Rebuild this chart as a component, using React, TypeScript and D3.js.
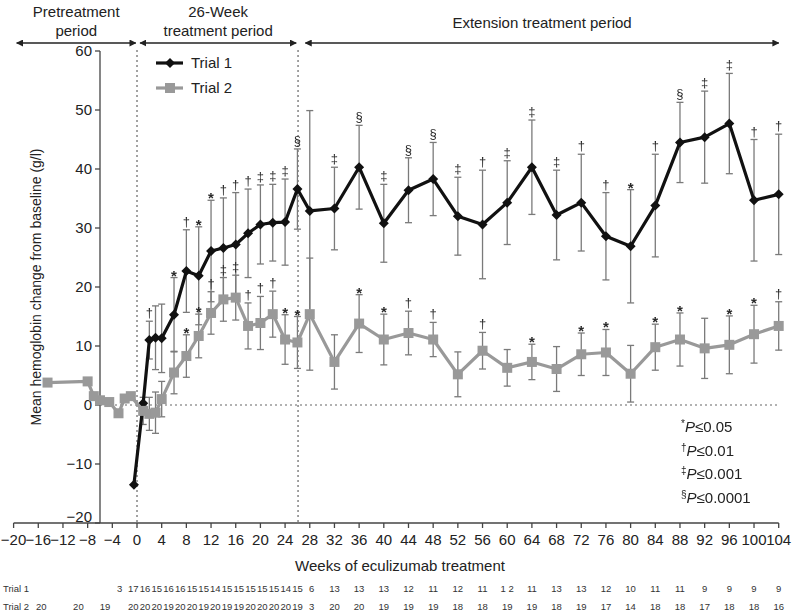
import React from 'react';
import * as d3 from 'd3';

const W = 792;
const H = 616;

// ---------- Data ----------
const xTicks = d3.range(-20, 105, 4);
const yTicks = [-20, -10, 0, 10, 20, 30, 40, 50, 60];

const t1Weeks = [-0.5, 1, 2, 3, 4, 6, 8, 10, 12, 14, 16, 18, 20, 22, 24, 26, 28, 32, 36, 40, 44, 48, 52, 56, 60, 64, 68, 72, 76, 80, 84, 88, 92, 96, 100, 104];
const t1Mean = [-13.5, 0.3, 11.0, 11.4, 11.3, 15.3, 22.7, 21.9, 26.1, 26.6, 27.2, 29.1, 30.6, 30.9, 31.0, 36.6, 32.9, 33.3, 40.3, 30.8, 36.4, 38.3, 32.0, 30.6, 34.3, 40.3, 32.2, 34.3, 28.6, 26.9, 33.8, 44.5, 45.4, 47.7, 34.7, 35.7];
const t1Err = [0, 0, 3.2, 5.4, 5.8, 6.3, 7.0, 8.3, 8.6, 8.5, 8.8, 7.5, 6.7, 6.5, 7.3, 6.8, 17.0, 7.0, 7.1, 6.6, 5.5, 6.2, 6.6, 9.2, 7.1, 8.0, 7.6, 8.2, 7.4, 9.6, 8.7, 6.8, 7.8, 8.5, 10.3, 10.2];
const t1Sig = ['', '', '†', '', '', '*', '†', '*', '*', '†', '†', '†', '‡', '‡', '‡', '§', '', '‡', '§', '‡', '§', '§', '‡', '†', '‡', '‡', '‡', '†', '†', '*', '†', '§', '‡', '‡', '†', '†'];

const t2Weeks = [-14.5, -8, -7, -6, -4.5, -3, -2, -1, 1, 2, 3, 4, 6, 8, 10, 12, 14, 16, 18, 20, 22, 24, 26, 28, 32, 36, 40, 44, 48, 52, 56, 60, 64, 68, 72, 76, 80, 84, 88, 92, 96, 100, 104];
const t2Mean = [3.8, 4.0, 1.5, 0.8, 0.5, -1.4, 1.1, 1.5, -1.0, -1.5, -1.3, 1.0, 5.5, 8.3, 11.7, 15.6, 17.9, 18.2, 13.4, 13.9, 15.4, 11.1, 10.6, 15.4, 7.3, 13.8, 11.1, 12.2, 11.1, 5.2, 9.2, 6.3, 7.3, 6.1, 8.6, 8.9, 5.3, 9.8, 11.1, 9.6, 10.2, 12.0, 13.4];
const t2Err = [0, 0, 0, 0, 0, 0, 0, 0, 2.3, 2.8, 3.5, 3.0, 3.6, 3.6, 3.7, 3.6, 3.7, 3.8, 3.9, 4.5, 3.9, 4.2, 4.4, 9.5, 4.6, 4.9, 4.3, 3.7, 2.9, 3.8, 3.1, 3.1, 3.0, 3.8, 3.6, 3.9, 4.8, 3.9, 4.5, 5.1, 4.9, 4.9, 4.1];
const t2Sig = ['', '', '', '', '', '', '', '', '', '', '', '', '', '*', '*', '†', '‡', '‡', '†', '†', '†', '*', '*', '', '', '*', '*', '†', '†', '', '†', '', '*', '', '*', '*', '', '*', '*', '', '*', '*', '†'];

// patient counts table
const t1PreCount = ['3'];
const t1PreCountWeeks = [-2.8];
const t1TreatCount = ['17', '16', '15', '16', '16', '15', '15', '14', '15', '15', '15', '15', '15', '14', '15'];
const t1W28Count = ['6'];
const t1ExtCount = ['13', '13', '13', '12', '11', '12', '11', '1 2', '11', '13', '13', '12', '10', '11', '11', '9', '9', '9', '9'];

const t2PreCount = ['20', '20', '19'];
const t2PreCountWeeks = [-15.5, -9.5, -5.2];
const t2TreatCount = ['20', '20', '20', '19', '20', '20', '19', '20', '19', '19', '20', '20', '20', '20', '19'];
const t2W28Count = ['3'];
const t2ExtCount = ['20', '20', '19', '19', '19', '18', '18', '19', '19', '18', '19', '17', '14', '18', '18', '17', '18', '18', '16'];

const extWeeks = d3.range(32, 105, 4);

const periods = [
  { lines: ['Pretreatment', 'period'], from: -19.5, to: -0.2 },
  { lines: ['26-Week', 'treatment period'], from: 0.5, to: 25.8 },
  { lines: ['Extension treatment period'], from: 27.3, to: 104 },
];

const sigLegend = [
  { sym: '*', text: '≤0.05' },
  { sym: '†', text: '≤0.01' },
  { sym: '‡', text: '≤0.001' },
  { sym: '§', text: '≤0.0001' },
];

// ---------- Layout ----------
const x = d3.scaleLinear().domain([-20, 104]).range([13.6, 778.7]);
const y = d3.scaleLinear().domain([-20, 60]).range([523, 51]);
const AXIS_X = 100;
const FONT = "'Liberation Sans', Arial, Helvetica, sans-serif";
const T1_COLOR = '#111';
const T2_COLOR = '#999';
const ERR_COLOR = '#7a7a7a';

function ErrorBars({ weeks, mean, err }: { weeks: number[]; mean: number[]; err: number[] }) {
  return (
    <g stroke={ERR_COLOR} strokeWidth={1.3}>
      {weeks.map((w, i) => {
        if (!err[i]) return null;
        const cx = x(w);
        const top = y(mean[i] + err[i]);
        const bot = y(mean[i] - err[i]);
        return (
          <g key={i}>
            <line x1={cx} x2={cx} y1={top} y2={bot} />
            <line x1={cx - 3.5} x2={cx + 3.5} y1={top} y2={top} />
            <line x1={cx - 3.5} x2={cx + 3.5} y1={bot} y2={bot} />
          </g>
        );
      })}
    </g>
  );
}

function SigMarks({ weeks, mean, err, sig }: { weeks: number[]; mean: number[]; err: number[]; sig: string[] }) {
  return (
    <g fontFamily={FONT} fill="#2a2a2a" textAnchor="middle" filter="url(#gray)">
      {weeks.map((w, i) => {
        const s = sig[i];
        if (!s) return null;
        const top = y(mean[i] + err[i]);
        const isStar = s === '*';
        return (
          <text key={i} x={x(w)} y={isStar ? top + 3 : top - 4} fontSize={isStar ? 15 : 13} fontWeight={isStar ? 'bold' : 'normal'}>
            {s}
          </text>
        );
      })}
    </g>
  );
}

export default function App() {
  const mkPath = (weeks: number[], mean: number[]) =>
    d3
      .line<number>()
      .x((w) => x(w))
      .y((_, i) => y(mean[i]))(weeks) as string;

  const diamond = (cx: number, cy: number, r: number) =>
    `M${cx},${cy - r}L${cx + r},${cy}L${cx},${cy + r}L${cx - r},${cy}Z`;

  const packedStart = -0.6;
  const packedStep = 1.9;

  const countRow = (
    yy: number,
    pre: string[],
    preWeeks: number[],
    treat: string[],
    w28: string[],
    ext: string[]
  ) => (
    <g fontSize={9.5} fill="#333" textAnchor="middle">
      {pre.map((c, i) => (
        <text key={'p' + i} x={x(preWeeks[i])} y={yy}>{c}</text>
      ))}
      {treat.map((c, i) => (
        <text key={'t' + i} x={x(packedStart + i * packedStep)} y={yy}>{c}</text>
      ))}
      {w28.map((c, i) => (
        <text key={'w' + i} x={x(28.3)} y={yy}>{c}</text>
      ))}
      {ext.map((c, i) => (
        <text key={'e' + i} x={x(extWeeks[i])} y={yy}>{c}</text>
      ))}
    </g>
  );

  return (
    <svg
      width={W}
      height={H}
      viewBox={`0 0 ${W} ${H}`}
      style={{ position: 'absolute', left: 0, top: 0, background: '#fff' }}
      fontFamily={FONT}
    >
      <defs>
        <marker id="ah" viewBox="0 0 10 10" refX="9" refY="5" markerWidth="7" markerHeight="7" orient="auto-start-reverse" markerUnits="userSpaceOnUse">
          <path d="M0,0L10,5L0,10Z" fill="#222" />
        </marker>
        <filter id="gray" x="-0.2" y="-0.2" width="1.4" height="1.4">
          <feColorMatrix type="saturate" values="0" />
        </filter>
      </defs>
      <rect width={W} height={H} fill="#fff" />

      {/* period headers */}
      {periods.map((p, i) => {
        const cx = (x(p.from) + x(p.to)) / 2;
        return (
          <g key={i}>
            {p.lines.map((t, j) => (
              <text
                key={j}
                x={cx}
                y={p.lines.length === 1 ? 28 : 17 + j * 19}
                textAnchor="middle"
                fontSize={15}
                fill="#222"
              >
                {t}
              </text>
            ))}
            <line
              x1={x(p.from)}
              x2={x(p.to)}
              y1={43}
              y2={43}
              stroke="#222"
              strokeWidth={1.3}
              markerStart="url(#ah)"
              markerEnd="url(#ah)"
            />
          </g>
        );
      })}

      {/* reference dotted lines */}
      <g stroke="#666" strokeWidth={1.2} strokeDasharray="2,3">
        <line x1={x(0)} x2={x(0)} y1={y(60) - 1} y2={y(-20)} />
        <line x1={x(26.1)} x2={x(26.1)} y1={y(60) - 1} y2={y(-20)} />
        <line x1={AXIS_X} x2={x(104)} y1={y(0)} y2={y(0)} />
      </g>

      {/* y axis */}
      <g stroke="#444" strokeWidth={1.3}>
        <line x1={AXIS_X} x2={AXIS_X} y1={y(60)} y2={y(-20)} />
        {yTicks.map((t) => (
          <line key={t} x1={AXIS_X - 5} x2={AXIS_X} y1={y(t)} y2={y(t)} />
        ))}
      </g>
      <g fontSize={15} fill="#222" textAnchor="end">
        {yTicks.map((t) => (
          <text key={t} x={AXIS_X - 8} y={y(t) + (t === -20 ? -1 : 5)}>
            {t < 0 ? '−' + Math.abs(t) : t}
          </text>
        ))}
      </g>
      <text
        transform={`translate(41, ${(y(60) + y(-20)) / 2}) rotate(-90)`}
        textAnchor="middle"
        fontSize={14}
        fill="#222"
      >
        Mean hemoglobin change from baseline (g/l)
      </text>

      {/* x axis */}
      <g stroke="#444" strokeWidth={1.3}>
        <line x1={x(-20)} x2={x(104)} y1={y(-20)} y2={y(-20)} />
        {xTicks.map((t) => (
          <line key={t} x1={x(t)} x2={x(t)} y1={y(-20)} y2={y(-20) + 5} />
        ))}
      </g>
      <g fontSize={15} fill="#222" textAnchor="middle">
        {xTicks.map((t) => (
          <text key={t} x={x(t)} y={y(-20) + 22}>
            {t < 0 ? '−' + Math.abs(t) : t}
          </text>
        ))}
      </g>
      <text x={400} y={571} textAnchor="middle" fontSize={15} fill="#222">
        Weeks of eculizumab treatment
      </text>

      {/* error bars */}
      <ErrorBars weeks={t1Weeks} mean={t1Mean} err={t1Err} />
      <ErrorBars weeks={t2Weeks} mean={t2Mean} err={t2Err} />

      {/* Trial 1 */}
      <path d={mkPath(t1Weeks, t1Mean)} fill="none" stroke={T1_COLOR} strokeWidth={3.2} strokeLinejoin="round" />
      {t1Weeks.map((w, i) => (
        <path key={i} d={diamond(x(w), y(t1Mean[i]), 5)} fill={T1_COLOR} />
      ))}

      {/* Trial 2 */}
      <path d={mkPath(t2Weeks, t2Mean)} fill="none" stroke={T2_COLOR} strokeWidth={3.2} strokeLinejoin="round" />
      {t2Weeks.map((w, i) => (
        <rect key={i} x={x(w) - 5} y={y(t2Mean[i]) - 5} width={10} height={10} fill={T2_COLOR} />
      ))}

      <SigMarks weeks={t1Weeks} mean={t1Mean} err={t1Err} sig={t1Sig} />
      <SigMarks weeks={t2Weeks} mean={t2Mean} err={t2Err} sig={t2Sig} />

      {/* legend */}
      <g>
        <line x1={156} x2={183} y1={63} y2={63} stroke={T1_COLOR} strokeWidth={3.2} />
        <path d={diamond(170, 63, 5)} fill={T1_COLOR} />
        <text x={191} y={68} fontSize={15} fill="#222">Trial 1</text>
        <line x1={156} x2={183} y1={88} y2={88} stroke={T2_COLOR} strokeWidth={3.2} />
        <rect x={165} y={83} width={10} height={10} fill={T2_COLOR} />
        <text x={191} y={93} fontSize={15} fill="#222">Trial 2</text>
      </g>

      {/* significance legend */}
      <g fontSize={15} fill="#222" filter="url(#gray)">
        {sigLegend.map((s, i) => (
          <text key={i} x={681} y={432 + i * 23.7}>
            <tspan fontSize={10} dy={-5}>{s.sym}</tspan>
            <tspan dy={5} fontStyle="italic">P</tspan>
            <tspan>{s.text}</tspan>
          </text>
        ))}
      </g>

      {/* counts table */}
      <g fontSize={9.5} fill="#333">
        <text x={3} y={592}>Trial 1</text>
        <text x={3} y={610}>Trial 2</text>
      </g>
      {countRow(592, t1PreCount, t1PreCountWeeks, t1TreatCount, t1W28Count, t1ExtCount)}
      {countRow(610, t2PreCount, t2PreCountWeeks, t2TreatCount, t2W28Count, t2ExtCount)}
    </svg>
  );
}
